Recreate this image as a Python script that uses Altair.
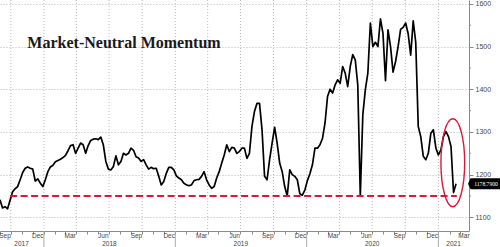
import altair as alt
import pandas as pd

# ---------------- data ----------------
start_date = "2017-09-01"
values = [
    1141, 1122, 1125, 1120, 1140, 1160, 1167, 1172, 1188, 1205, 1215, 1218, 1215, 1213, 1185, 1190, 1180, 1172, 1188, 1207,
    1218, 1222, 1230, 1233, 1236, 1240, 1245, 1256, 1268, 1270, 1250, 1262, 1274, 1270, 1250, 1268, 1280, 1283,
    1284, 1282, 1288, 1270, 1231, 1213, 1211, 1219, 1244, 1223, 1231, 1250, 1246, 1250, 1262, 1257, 1242, 1239, 1231, 1235,
    1223, 1213, 1217, 1214, 1215, 1196, 1176, 1184, 1203, 1217, 1217, 1211, 1197, 1192, 1188, 1180, 1176, 1174,
    1176, 1186, 1188, 1189, 1196, 1207, 1188, 1176, 1168, 1172, 1192, 1207, 1227, 1246, 1270, 1254, 1264, 1262, 1250, 1254,
    1262, 1262, 1238, 1250, 1313, 1348, 1367, 1367, 1305, 1196, 1188, 1235, 1274, 1311, 1274, 1227, 1207,
    1172, 1150, 1211, 1200, 1196, 1188, 1155, 1152, 1164, 1186, 1202, 1223, 1262, 1262, 1270, 1285, 1321, 1383, 1400, 1391,
    1410, 1422, 1414, 1453, 1438, 1406, 1453, 1481, 1469, 1410, 1150, 1340, 1399, 1438, 1555, 1500, 1510, 1500,
    1565, 1531, 1420, 1539, 1500, 1440, 1465, 1500, 1540, 1545, 1555, 1530, 1480, 1560, 1510, 1313, 1289, 1243, 1235, 1250,
    1297, 1305, 1262, 1246, 1258, 1289, 1301, 1289, 1266, 1158, 1178.79,
]
dates = pd.date_range(start_date, periods=len(values), freq="7D")

title_text = "Market-Neutral Momentum"
y_ticks = [1100, 1200, 1300, 1400, 1500, 1600]
y_minor = [1150, 1250, 1350, 1450, 1550]
support_level = 1150
support_start, support_end = "2017-09-29", "2021-02-21"
ellipse_date, ellipse_value = "2021-02-10", 1228
last_value = 1178.79
last_label = "1178.7900"

grid_dates = ["2017-10-01", "2018-01-01", "2018-04-01", "2018-07-01", "2018-10-01", "2019-01-01",
              "2019-04-01", "2019-07-01", "2019-10-01", "2020-01-01", "2020-04-01", "2020-07-01",
              "2020-10-01", "2021-01-01"]
month_dates = ["2017-09-15", "2017-12-15", "2018-03-15", "2018-06-15", "2018-09-15", "2018-12-15",
               "2019-03-15", "2019-06-15", "2019-09-15", "2019-12-15", "2020-03-15", "2020-06-15",
               "2020-09-15", "2020-12-15", "2021-03-13"]
month_labels = ["Sep", "Dec", "Mar", "Jun", "Sep", "Dec", "Mar", "Jun", "Sep", "Dec", "Mar", "Jun",
                "Sep", "Dec", "Mar"]
year_dates = ["2017-10-31", "2018-07-02", "2019-07-02", "2020-07-01", "2021-02-12"]
year_labels = ["2017", "2018", "2019", "2020", "2021"]
year_breaks = ["2018-01-01", "2019-01-01", "2020-01-01", "2021-01-01"]

# ---------------- frames ----------------
series = pd.DataFrame({"date": dates, "value": values})
grid_df = pd.DataFrame({"date": pd.to_datetime(grid_dates)})
month_df = pd.DataFrame({"date": pd.to_datetime(month_dates), "label": month_labels})
year_df = pd.DataFrame({"date": pd.to_datetime(year_dates), "label": year_labels})
break_df = pd.DataFrame({"date": pd.to_datetime(year_breaks)})
minor_df = pd.DataFrame({"value": y_minor})
support_df = pd.DataFrame({"start": pd.to_datetime([support_start]), "end": pd.to_datetime([support_end]),
                           "value": [support_level]})
ellipse_df = pd.DataFrame({"date": pd.to_datetime([ellipse_date]), "value": [ellipse_value]})
last_df = pd.DataFrame({"value": [last_value], "label": [last_label]})
title_df = pd.DataFrame({"t": [title_text]})

W, H = 469, 231
xscale = alt.Scale(domain=[alt.DateTime(year=2017, month=9, date=1), alt.DateTime(year=2021, month=3, date=27)])
yscale = alt.Scale(domain=[1068, 1609], nice=False, zero=False)

AX = "#8a8a8a"
LBL = "#444444"

line = alt.Chart(series).mark_line(color="black", strokeWidth=1.7, strokeJoin="round").encode(
    x=alt.X("date:T", scale=xscale,
            axis=alt.Axis(labels=False, grid=False, tickCount={"interval": "month", "step": 1},
                          tickSize=3, tickColor=AX, domainColor=AX, title=None)),
    y=alt.Y("value:Q", scale=yscale,
            axis=alt.Axis(orient="right", values=y_ticks, format="d", grid=True, gridDash=[1, 2],
                          gridColor="#b8b8b8", tickSize=4, tickColor=AX, domainColor=AX, labelFontSize=7,
                          labelColor=LBL, labelFont="Liberation Sans", labelPadding=2, title=None)),
)

vgrid = alt.Chart(grid_df).mark_rule(color="#b8b8b8", strokeDash=[1, 2], strokeWidth=1).encode(
    x=alt.X("date:T", scale=xscale, axis=None), y=alt.value(0), y2=alt.value(H))

minor = alt.Chart(minor_df).mark_rule(color=AX, strokeWidth=1).encode(
    y=alt.Y("value:Q", scale=yscale, axis=None), x=alt.value(W), x2=alt.value(W + 2))

support = alt.Chart(support_df).mark_rule(color="#d7193c", strokeWidth=2.2, strokeDash=[7, 3.5]).encode(
    x=alt.X("start:T", scale=xscale, axis=None), x2="end:T",
    y=alt.Y("value:Q", scale=yscale, axis=None))

ellipse_path = "M 0 -1 A 0.27 1 0 1 1 0 1 A 0.27 1 0 1 1 0 -1 Z"
ellipse = alt.Chart(ellipse_df).mark_point(shape=ellipse_path, filled=False, color="#d7193c",
                                           strokeWidth=1.4, size=7744, opacity=1).encode(
    x=alt.X("date:T", scale=xscale, axis=None), y=alt.Y("value:Q", scale=yscale, axis=None))

box_path = "M -1 0 L -0.84 -0.34 L 1 -0.34 L 1 0.34 L -0.84 0.34 Z"
box = alt.Chart(last_df).mark_point(shape=box_path, filled=True, color="black", size=1024, opacity=1).encode(
    x=alt.value(484), y=alt.Y("value:Q", scale=yscale, axis=None))
box_text = alt.Chart(last_df).mark_text(color="white", fontSize=5.6, font="Liberation Sans Narrow", align="center",
                                        baseline="middle").encode(
    x=alt.value(486), y=alt.Y("value:Q", scale=yscale, axis=None), text="label:N")

months = alt.Chart(month_df).mark_text(fontSize=6.5, font="Liberation Sans", color=LBL, baseline="middle").encode(
    x=alt.X("date:T", scale=xscale, axis=None), y=alt.value(236), text="label:N")
years = alt.Chart(year_df).mark_text(fontSize=6.5, font="Liberation Sans", color=LBL, baseline="middle").encode(
    x=alt.X("date:T", scale=xscale, axis=None), y=alt.value(244), text="label:N")
breaks = alt.Chart(break_df).mark_rule(color="#aaaaaa", strokeWidth=1).encode(
    x=alt.X("date:T", scale=xscale, axis=None), y=alt.value(H), y2=alt.value(247))

title = alt.Chart(title_df).mark_text(fontSize=16, font="Liberation Serif", fontWeight="bold", color="#1a1a1a",
                                      align="center", baseline="middle").encode(
    x=alt.value(124), y=alt.value(43), text="t:N")

chart = alt.layer(vgrid, line, minor, support, ellipse, box, box_text, months, years, breaks, title).resolve_axis(
    x="independent", y="independent"
).properties(
    width=W, height=H, padding={"left": 0, "top": 0, "right": 31, "bottom": 16},
    autosize=alt.AutoSizeParams(type="none"), background="white",
).configure_view(strokeWidth=0)

chart.save("out.html", embed_options={"renderer": "svg", "actions": False})
